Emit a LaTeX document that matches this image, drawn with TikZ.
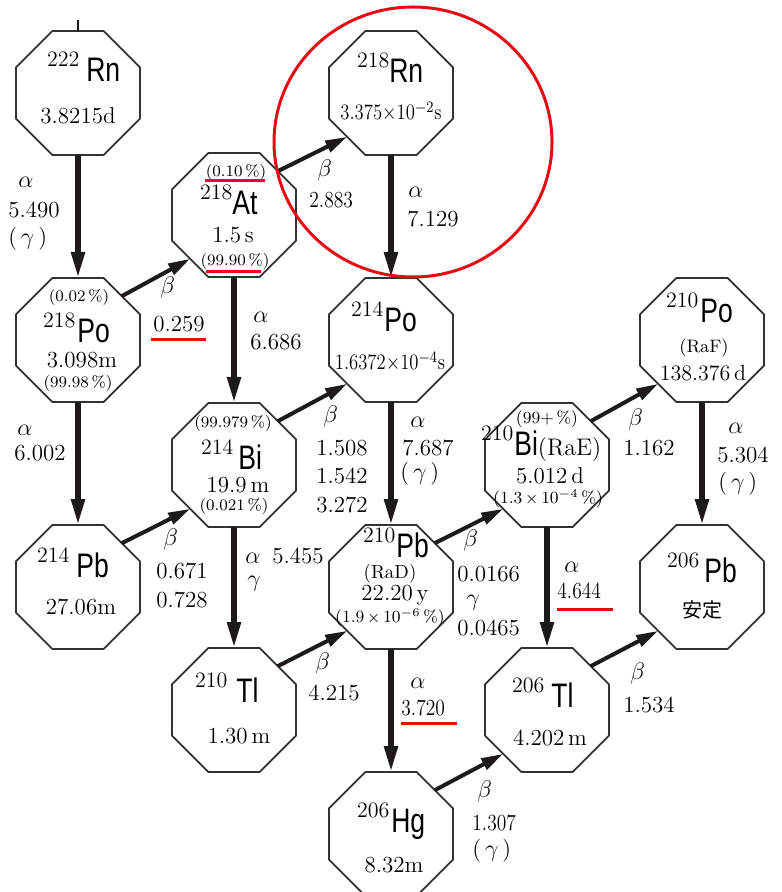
\documentclass[tikz,border=0pt]{standalone}
\usepackage{fontspec}
\usetikzlibrary{shapes.geometric,arrows.meta}
\newfontfamily\elf[FakeStretch=0.78]{Liberation Sans}
\newfontfamily\cjk{Noto Sans CJK JP}
\definecolor{mkred}{RGB}{230,10,20}
\definecolor{ink}{RGB}{30,26,26}
\newcommand{\nucl}[3]{\raisebox{7.5pt}{\fontsize{11}{11}\selectfont #1}\hspace{#2}{\fontsize{17}{17}\elf #3}}
\newcommand{\gr}[1]{{\fontsize{13}{13}\selectfont$#1$}}
\newcommand{\gam}{(\,\gr{\gamma}\,)}
\newcommand{\cond}[1]{\scalebox{0.85}[1]{#1}}
\tikzset{
 oct/.style={shape=regular polygon, regular polygon sides=8, minimum size=67.1pt, draw=ink!90, line width=0.85pt, inner sep=0pt, outer sep=0pt},
 nuc/.style={anchor=base west, inner sep=0pt, outer sep=0pt},
 hl/.style={anchor=base, inner sep=0pt, font=\fontsize{11.5}{12}\selectfont},
 pc/.style={anchor=base, inner sep=0pt, font=\fontsize{8}{9}\selectfont},
 lb/.style={anchor=base west, inner sep=0pt, font=\fontsize{11.5}{12}\selectfont},
 aarr/.style={draw=ink, line width=2.7pt, -{Triangle[length=13pt,width=6.5pt]}},
 barr/.style={draw=ink, line width=2pt, -{Triangle[length=11pt,width=6pt]}},
 redmark/.style={draw=mkred, line width=1.5pt},
}
\begin{document}
\begin{tikzpicture}[x=0.5pt,y=-0.5pt]
\useasboundingbox (0,0) rectangle (781,892);
\clip (0,0) rectangle (781,892);
% octagons
\node[oct] (RnA) at (78,93) {};
\node[oct] (PoA) at (78,340) {};
\node[oct] (PbA) at (78,587) {};
\node[oct] (At) at (234,215) {};
\node[oct] (BiA) at (234,465) {};
\node[oct] (TlA) at (234,710) {};
\node[oct] (RnB) at (391,93) {};
\node[oct] (PoB) at (391,340) {};
\node[oct] (PbB) at (391,587) {};
\node[oct] (Hg) at (391,834) {};
\node[oct] (BiB) at (547,465) {};
\node[oct] (TlB) at (547,710) {};
\node[oct] (PoC) at (702,340) {};
\node[oct] (PbC) at (702,587) {};
% stub above 222Rn
\coordinate (topstub) at (78,20);
\draw[draw=ink, line width=0.9pt] (RnA.north) -- (topstub);
% alpha arrows
\draw[aarr] (RnA.south) -- (PoA.north);
\draw[aarr] (PoA.south) -- (PbA.north);
\draw[aarr] (At.south) -- (BiA.north);
\draw[aarr] (BiA.south) -- (TlA.north);
\draw[aarr] (RnB.south) -- (PoB.north);
\draw[aarr] (PoB.south) -- (PbB.north);
\draw[aarr] (PbB.south) -- (Hg.north);
\draw[aarr] (BiB.south) -- (TlB.north);
\draw[aarr] (PoC.south) -- (PbC.north);
% beta arrows
\draw[barr] (PoA.45) -- (At.225);
\draw[barr] (At.45) -- (RnB.225);
\draw[barr] (PbA.45) -- (BiA.225);
\draw[barr] (BiA.45) -- (PoB.225);
\draw[barr] (TlA.45) -- (PbB.225);
\draw[barr] (PbB.45) -- (BiB.225);
\draw[barr] (BiB.45) -- (PoC.225);
\draw[barr] (Hg.45) -- (TlB.225);
\draw[barr] (TlB.45) -- (PbC.225);
% nuclide names
\node[nuc] (nRnA) at (47,82) {\nucl{222}{3.5pt}{Rn}};
\node[nuc] (nRnB) at (357,83) {\nucl{218}{0pt}{Rn}};
\node[nuc] (nAt) at (200,215) {\nucl{218}{0pt}{At}};
\node[nuc] (nPoA) at (43,343) {\nucl{218}{1pt}{Po}};
\node[nuc] (nPbA) at (37,577) {\nucl{214}{3.5pt}{Pb}};
\node[nuc] (nBiA) at (201,469) {\nucl{214}{2.5pt}{Bi}};
\node[nuc] (nPoB) at (351,332) {\nucl{214}{0.5pt}{Po}};
\node[nuc] (nPbB) at (363,557) {\nucl{210}{0.5pt}{Pb}};
\node[nuc] (nBiB) at (481,455) {\nucl{210}{0.5pt}{Bi}{\fontsize{12}{12}\selectfont (RaE)}};
\node[nuc] (nPoC) at (666,323) {\nucl{210}{1pt}{Po}};
\node[nuc] (nPbC) at (667,582) {\nucl{206}{2.5pt}{Pb}};
\node[nuc] (nTlA) at (195,702) {\nucl{210}{4.5pt}{Tl}};
\node[nuc] (nHg) at (357,832) {\nucl{206}{1pt}{Hg}};
\node[nuc] (nTlB) at (512,707) {\nucl{206}{3.5pt}{Tl}};
% inner texts
\node[hl] (tRnA) at (78,124) {3.8215d};
\node[hl] (tRnB) at (391,120) {\cond{\fontsize{11}{12}\selectfont 3.375$\times$10$^{-2}$s}};
\node[pc] (pAt1) at (236,177) {(0.10\,\%)};
\node[hl] (tAt) at (233,243) {1.5\,s};
\node[pc] (pAt2) at (235,266) {(99.90\,\%)};
\node[pc] (pPoA1) at (79,302) {(0.02\,\%)};
\node[hl] (tPoA) at (82,367) {3.098m};
\node[pc] (pPoA2) at (78,387) {(99.98\,\%)};
\node[hl] (tPbA) at (81,614) {27.06m};
\node[pc] (pBiA1) at (233,427) {(99.979\,\%)};
\node[hl] (tBiA) at (238,492) {19.9\,m};
\node[pc] (pBiA2) at (234,510) {(0.021\,\%)};
\node[hl] (tPoB) at (390,370) {\cond{\fontsize{11}{12}\selectfont 1.6372$\times$10$^{-4}$s}};
\node[hl,font=\fontsize{9.5}{10}\selectfont] (rPbB) at (390,578) {(RaD)};
\node[hl] (tPbB) at (395,600) {22.20\,y};
\node[pc,font=\fontsize{8.5}{9}\selectfont] (pPbB) at (390,622) {(1.9$\,\times\,$10$^{-6}$\,\%)};
\node[pc,font=\fontsize{8.5}{9}\selectfont] (pBiB1) at (547,423) {(99+\,\%)};
\node[hl] (tBiB) at (550,483) {5.012\,d};
\node[pc,font=\fontsize{8.5}{9}\selectfont] (pBiB2) at (548,503) {(1.3$\,\times\,$10$^{-4}$\,\%)};
\node[hl,font=\fontsize{9}{10}\selectfont] (rPoC) at (704,353) {(RaF)};
\node[hl,font=\fontsize{11}{12}\selectfont] (tPoC) at (703,380) {138.376\,d};
\node[hl,font=\fontsize{10}{11}\cjk] (tPbC) at (702,617) {安定};
\node[hl] (tTlA) at (239,743) {1.30\,m};
\node[hl] (tHg) at (394,872) {8.32m};
\node[hl] (tTlB) at (550,745) {4.202\,m};
% decay labels
\node[lb] (l1a) at (18,188) {\gr{\alpha}};
\node[lb] (l1b) at (8,218) {5.490};
\node[lb] (l1c) at (8,245) {\gam};
\node[lb] (l2a) at (160,294) {\gr{\beta}};
\node[lb] (l2b) at (153,332) {0.259};
\node[lb] (l3a) at (253,323) {\gr{\alpha}};
\node[lb] (l3b) at (250,350) {6.686};
\node[lb] (l4a) at (317,177) {\gr{\beta}};
\node[lb] (l4b) at (309,208) {\cond{2.883}};
\node[lb] (l5a) at (408,198) {\gr{\alpha}};
\node[lb] (l5b) at (407,227) {7.129};
\node[lb] (l6a) at (17,435) {\gr{\alpha}};
\node[lb] (l6b) at (14,460) {6.002};
\node[lb] (l7a) at (163,545) {\gr{\beta}};
\node[lb] (l7b) at (156,578) {0.671};
\node[lb] (l7c) at (156,607) {0.728};
\node[lb] (l8a) at (245,563) {\gr{\alpha}};
\node[lb] (l8b) at (272,563) {5.455};
\node[lb] (l8c) at (247,586) {\gr{\gamma}};
\node[lb] (l9a) at (323,422) {\gr{\beta}};
\node[lb] (l9b) at (316,455) {1.508};
\node[lb] (l9c) at (316,483) {1.542};
\node[lb] (l9d) at (316,512) {3.272};
\node[lb] (l10a) at (410,427) {\gr{\alpha}};
\node[lb] (l10b) at (402,455) {7.687};
\node[lb] (l10c) at (400,479) {\gam};
\node[lb] (l11a) at (463,546) {\gr{\beta}};
\node[lb] (l11b) at (457,581) {0.0166};
\node[lb] (l11c) at (466,605) {\gr{\gamma}};
\node[lb] (l11d) at (457,635) {0.0465};
\node[lb] (l12a) at (564,572) {\gr{\alpha}};
\node[lb] (l12b) at (557,598) {\cond{4.644}};
\node[lb] (l13a) at (628,425) {\gr{\beta}};
\node[lb] (l13b) at (623,455) {1.162};
\node[lb] (l14a) at (728,433) {\gr{\alpha}};
\node[lb] (l14b) at (717,462) {5.304};
\node[lb] (l14c) at (718,489) {\gam};
\node[lb] (l15a) at (315,669) {\gr{\beta}};
\node[lb] (l15b) at (308,700) {4.215};
\node[lb] (l16a) at (410,688) {\gr{\alpha}};
\node[lb] (l16b) at (401,715) {\cond{3.720}};
\node[lb] (l17a) at (477,797) {\gr{\beta}};
\node[lb] (l17b) at (472,830) {\cond{1.307}};
\node[lb] (l17c) at (472,856) {\gam};
\node[lb] (l18a) at (630,679) {\gr{\beta}};
\node[lb] (l18b) at (623,712) {1.534};
% red annotations
\draw[redmark] (413,142) ellipse [x radius=69.5pt, y radius=67.5pt];
\draw[redmark] (205,181) -- (265,181);
\draw[redmark] (206,272) -- (261,272);
\draw[redmark] (151,340) -- (206,340);
\draw[redmark] (557,609) -- (613,609);
\draw[redmark] (401,723) -- (457,723);
\end{tikzpicture}
\end{document}
